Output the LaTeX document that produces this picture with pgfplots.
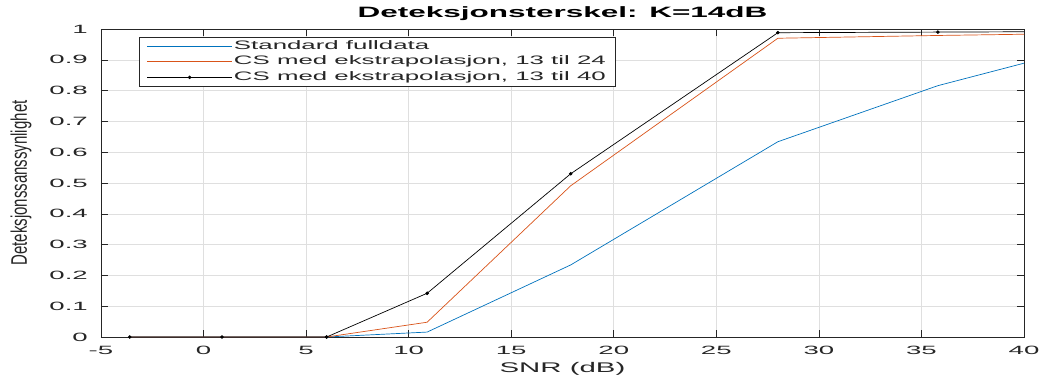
\documentclass[border=0pt]{standalone}
\usepackage{fontspec}
\setmainfont{Liberation Sans}[FakeStretch=2.1]
\newfontfamily\ylfont{Liberation Sans}
\newfontfamily\tickfont{Liberation Sans}[FakeStretch=2.3]
\usepackage{pgfplots}
\pgfplotsset{compat=1.18}
\definecolor{mblue}{rgb}{0,0.447,0.741}
\definecolor{morange}{rgb}{0.85,0.325,0.098}
\definecolor{maxis}{RGB}{38,38,38}
\definecolor{mgrid}{RGB}{223,223,223}
\begin{document}
\begin{tikzpicture}
\begin{axis}[
  scale only axis,
  width=923pt, height=308pt,
  xmin=-5, xmax=40, ymin=0, ymax=1,
  xtick={-5,0,5,10,15,20,25,30,35,40},
  xticklabels={-5,0,5,10,15,20,25,30,35,40},
  ytick={0,0.1,0.2,0.3,0.4,0.5,0.6,0.7,0.8,0.9,1},
  yticklabels={0,0.1,0.2,0.3,0.4,0.5,0.6,0.7,0.8,0.9,1},
  tick align=inside,
  major tick length=7pt,
  xmajorgrids, ymajorgrids,
  major grid style={mgrid, line width=0.6pt},
  axis line style={maxis, line width=0.6pt},
  every tick/.style={maxis, line width=0.6pt},
  tick label style={font=\tickfont\fontsize{12}{14}\selectfont, text=maxis},
  xticklabel style={anchor=north, inner sep=0pt, yshift=-9pt},
  yticklabel style={anchor=east, inner sep=0pt, xshift=-13pt},
  xlabel={SNR (dB)},
  xlabel style={font=\fontsize{14}{16}\selectfont, text=maxis, at={(axis description cs:0.5,0)}, anchor=base, yshift=-35pt, inner sep=0pt},
  ylabel={\scalebox{1}[1.5]{Deteksjonssanssynlighet}},
  ylabel style={font=\ylfont\fontsize{15}{18}\selectfont, text=maxis, at={(axis description cs:0,0.5)}, anchor=center, yshift=80pt, inner sep=0pt},
  title={\bfseries Deteksjonsterskel: K=14dB},
  title style={font=\fontsize{15}{18}\selectfont, at={(axis description cs:0.5,1)}, anchor=base, yshift=6pt, inner sep=0pt},
  legend style={at={(axis description cs:0,1)}, anchor=north west, xshift=38pt, yshift=-8pt,
    draw=maxis, line width=0.6pt, fill=white, font=\fontsize{12.3}{14}\selectfont, text=maxis,
    row sep=0.5pt, inner xsep=7.5pt, inner ysep=1.5pt,
    nodes={text height=9pt, text depth=3pt, inner sep=1.5pt},
    /tikz/every even column/.append style={column sep=7pt}},
  legend cell align=left,
  legend image code/.code={\draw[mark=none] (0pt,0pt) -- (85pt,0pt); \draw[mark indices={1}] plot coordinates {(42.5pt,0pt)};},
]
\addplot[mblue, line width=0.7pt, mark=none] coordinates {
(-3.6,0) (0.9,0) (6.0,0) (10.9,0.016) (17.9,0.234) (28.0,0.634) (35.8,0.816) (40,0.889)};
\addlegendentry{Standard fulldata}
\addplot[morange, line width=0.7pt, mark=none] coordinates {
(-3.6,0) (0.9,0) (6.0,0) (10.9,0.048) (17.9,0.491) (28.0,0.970) (35.8,0.979) (40,0.983)};
\addlegendentry{CS med ekstrapolasjon, 13 til 24}
\addplot[black, line width=0.7pt, mark=*, mark size=1.4pt, mark options={solid, fill=black}, mark indices={1,2,3,4,5,6,7}] coordinates {
(-3.6,0) (0.9,0) (6.0,0) (10.9,0.142) (17.9,0.530) (28.0,0.988) (35.8,0.990) (40,0.991)};
\addlegendentry{CS med ekstrapolasjon, 13 til 40}
\end{axis}
\pgfresetboundingbox
\useasboundingbox (current axis.south west) ++(-101pt,-39pt) rectangle ++(1039pt,376pt);
\end{tikzpicture}
\end{document}
